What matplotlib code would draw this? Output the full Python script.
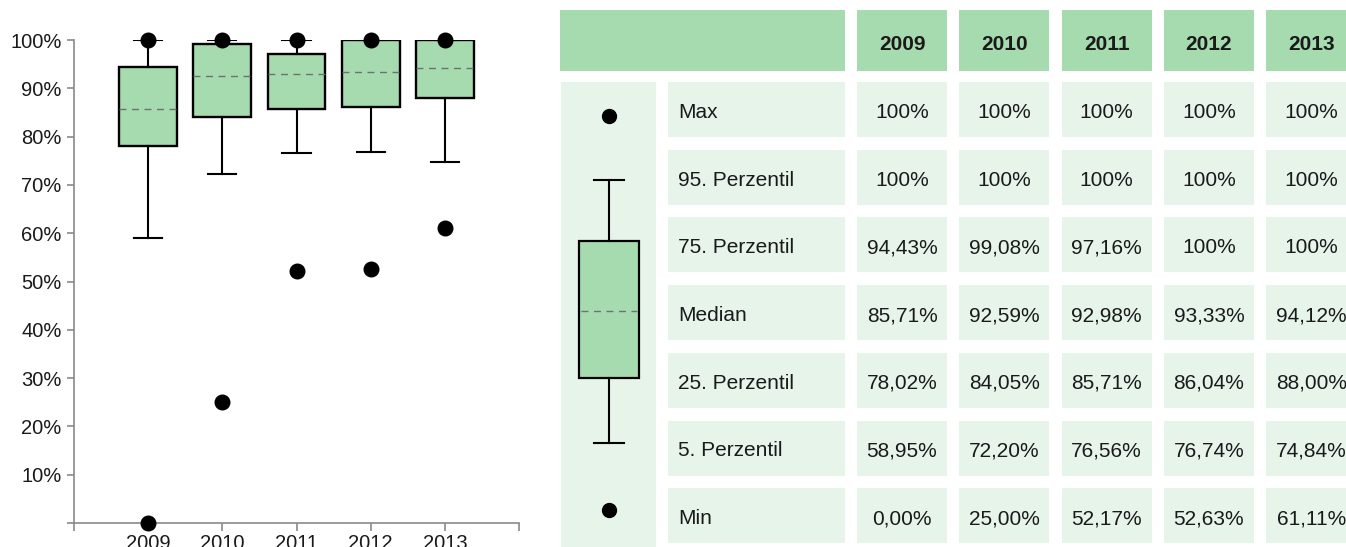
import numpy as np
import matplotlib.pyplot as plt
from matplotlib.patches import Rectangle

plt.rcParams['font.family'] = ['Liberation Sans', 'DejaVu Sans']

# Kennzahlen je Jahr (in %)
years = ['2009', '2010', '2011', '2012', '2013']
p_max = [100.0, 100.0, 100.0, 100.0, 100.0]
p95 = [100.0, 100.0, 100.0, 100.0, 100.0]
p75 = [94.43, 99.08, 97.16, 100.0, 100.0]
median = [85.71, 92.59, 92.98, 93.33, 94.12]
p25 = [78.02, 84.05, 85.71, 86.04, 88.00]
p5 = [58.95, 72.20, 76.56, 76.74, 74.84]
p_min = [0.00, 25.00, 52.17, 52.63, 61.11]

row_labels = ['Max', '95. Perzentil', '75. Perzentil', 'Median',
              '25. Perzentil', '5. Perzentil', 'Min']
rows = [p_max, p95, p75, median, p25, p5, p_min]

GREEN = '#a6dbb0'
LIGHT = '#e6f4ea'
TXT = '#1a1a1a'

W, H = 1346, 547
fig = plt.figure(figsize=(W / 100, H / 100), dpi=100)

# --- Boxplot ---------------------------------------------------------------
ax = fig.add_axes([74 / W, (H - 523) / H, 445 / W, 483 / H])
stats = []
for i in range(len(years)):
    stats.append(dict(med=median[i], q1=p25[i], q3=p75[i],
                      whislo=p5[i], whishi=p95[i],
                      fliers=[p_min[i], p_max[i]]))
pos = np.arange(1, len(years) + 1)
bp = ax.bxp(stats, positions=pos, widths=0.78, capwidths=0.38,
            patch_artist=True, showfliers=True,
            boxprops=dict(facecolor=GREEN, edgecolor='black', linewidth=1.7),
            whiskerprops=dict(color='black', linewidth=1.5),
            capprops=dict(color='black', linewidth=1.5),
            medianprops=dict(color='#707070', linewidth=1.0, linestyle=(0, (5, 4))),
            flierprops=dict(marker='o', markerfacecolor='black',
                            markeredgecolor='black', markersize=10.5))
for fl in bp['fliers']:
    fl.set_clip_on(False)
    fl.set_zorder(5)

ax.set_xlim(0, len(years) + 1)
ax.set_ylim(0, 100)
ax.set_xticks(np.arange(0, len(years) + 2))
ax.set_xticklabels([''] + years + [''])
ax.set_yticks(np.arange(0, 101, 10))
ax.set_yticklabels([''] + [f'{v}%' for v in range(10, 101, 10)])
for s in ['top', 'right']:
    ax.spines[s].set_visible(False)
for s in ['left', 'bottom']:
    ax.spines[s].set_color('#8a8a8a')
    ax.spines[s].set_linewidth(1.2)
ax.tick_params(axis='y', colors='#8a8a8a', labelcolor=TXT, length=5,
               width=1.2, pad=4, labelsize=14.5)
ax.tick_params(axis='x', colors='#8a8a8a', labelcolor=TXT, length=6,
               width=1.2, pad=2, labelsize=14.5)

# --- Tabelle ---------------------------------------------------------------
tb = fig.add_axes([0, 0, 1, 1], zorder=-1)
tb.set_xlim(0, W)
tb.set_ylim(H, 0)
tb.axis('off')

col_x0, col_pitch, col_w = 857, 102.3, 90
row_y0, row_pitch, row_h = 82, 67.7, 55

tb.add_patch(Rectangle((560, 10), 285, 61, color=GREEN, lw=0))
for j, yr in enumerate(years):
    x = col_x0 + j * col_pitch
    tb.add_patch(Rectangle((x, 10), col_w, 61, color=GREEN, lw=0))
    tb.text(x + col_w / 2, 43, yr, ha='center', va='center_baseline',
            fontsize=15, fontweight='bold', color=TXT)

tb.add_patch(Rectangle((561, row_y0), 95, H - row_y0, color=LIGHT, lw=0))
for i, (lab, vals) in enumerate(zip(row_labels, rows)):
    y = row_y0 + i * row_pitch
    tb.add_patch(Rectangle((668, y), 177, row_h, color=LIGHT, lw=0))
    tb.text(678, y + row_h / 2 + 1, lab, ha='left', va='center_baseline',
            fontsize=15, color=TXT)
    for j, v in enumerate(vals):
        x = col_x0 + j * col_pitch
        tb.add_patch(Rectangle((x, y), col_w, row_h, color=LIGHT, lw=0))
        if lab in ('Max', '95. Perzentil') or (lab == '75. Perzentil' and v == 100):
            s = f'{v:.0f}%'
        else:
            s = f'{v:.2f}%'.replace('.', ',')
        tb.text(x + col_w / 2, y + row_h / 2 + 1, s, ha='center',
                va='center_baseline', fontsize=15, color=TXT)

# Legendensymbol
lx = 609
tb.plot([lx], [116], 'o', color='black', markersize=10)
tb.plot([lx], [510], 'o', color='black', markersize=10)
tb.plot([594, 624], [180, 180], color='black', lw=1.5)
tb.plot([594, 624], [443, 443], color='black', lw=1.5)
tb.plot([lx, lx], [180, 241], color='black', lw=1.5)
tb.plot([lx, lx], [378, 443], color='black', lw=1.5)
tb.add_patch(Rectangle((579, 241), 60, 137, facecolor=GREEN,
                       edgecolor='black', lw=1.6))
tb.plot([581, 637], [311, 311], color='#707070', lw=1.0, linestyle=(0, (5, 4)))

fig.savefig('out.png', dpi=100)
